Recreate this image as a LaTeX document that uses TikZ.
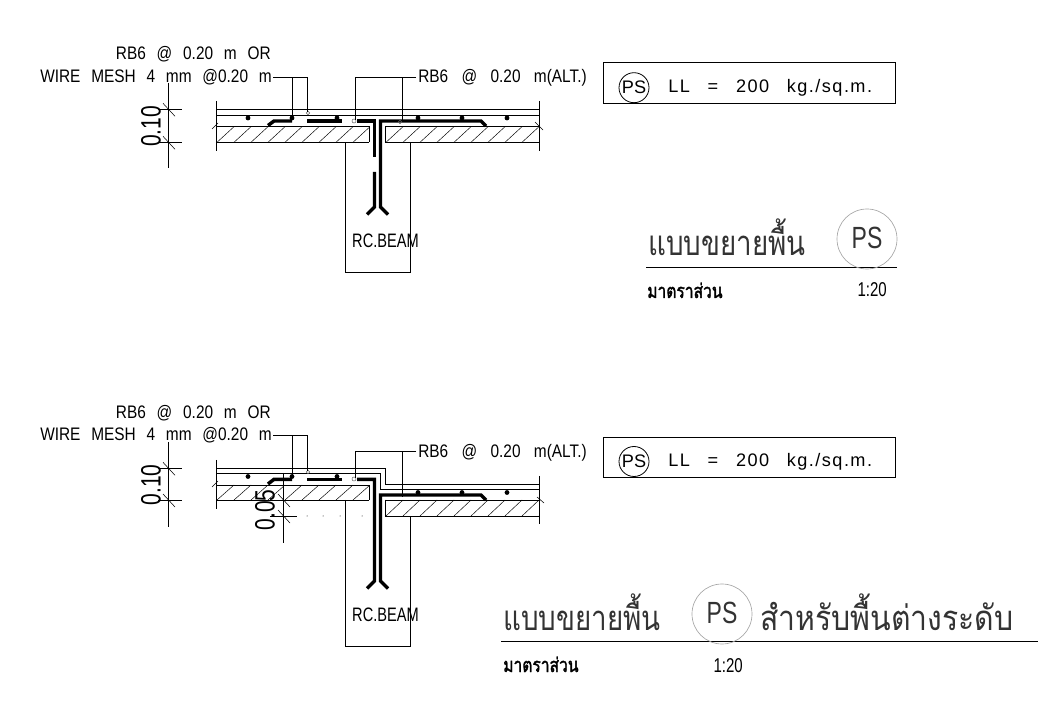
\documentclass[tikz,border=0pt]{standalone}
\usepackage{fontspec}
\setmainfont{Liberation Sans}
\newfontfamily\narrowfont[FakeStretch=0.75]{Liberation Sans}
\newfontfamily\spacedfont[FakeStretch=0.85]{Liberation Sans}
\newfontfamily\loadfont[LetterSpace=8]{Liberation Sans}
\newfontfamily\thaifont[Script=Thai, FakeStretch=0.8]{Loma}
\newfontfamily\thaiwide[Script=Thai, FakeStretch=0.87]{Loma}
\newfontfamily\thaibold[Script=Thai, FakeStretch=0.78, FakeBold=1.6]{Loma}
\usetikzlibrary{calc}
\newcommand{\wordgap}[1]{\spaceskip=#1em\relax}
\tikzset{
    thin line/.style = {line width = 0.6pt},
    rebar/.style = {line width = 2.6pt, line join = miter},
    bartext/.style = {inner sep = 0pt, font = \spacedfont\fontsize{13.6}{14}\selectfont, execute at begin node = {\wordgap{0.595}}},
    alttext/.style = {inner sep = 0pt, anchor = west, font = \spacedfont\fontsize{13.6}{14}\selectfont, execute at begin node = {\wordgap{0.737}}},
    loadtext/.style = {inner sep = 0pt, anchor = west, font = \loadfont\fontsize{13.6}{14}\selectfont, execute at begin node = {\wordgap{0.98}}},
    dimtext/.style = {rotate = 90, inner sep = 0pt, font = \narrowfont\fontsize{21}{21}\selectfont},
    beamtext/.style = {inner sep = 0pt, font = \narrowfont\fontsize{14.6}{15}\selectfont},
    bigthai/.style = {inner sep = 0pt, anchor = base west, text = black!80, font = \thaifont\fontsize{26}{26}\selectfont},
    smallthai/.style = {inner sep = 0pt, anchor = base west, font = \thaibold\fontsize{15}{15}\selectfont},
    ratiotext/.style = {inner sep = 0pt, anchor = base east, font = \narrowfont\fontsize{15}{15}\selectfont},
    seal/.style = {draw = black!35, line width = 0.5pt},
    sealtext/.style = {inner sep = 0pt, text = black!80, font = \narrowfont\fontsize{23}{23}\selectfont},
    pstext/.style = {inner sep = 0pt, font = \fontsize{13.6}{14}\selectfont},
    stirrup/.style = {line width = 0.4pt, black!60}
}
% Tratteggio del solaio
\newcommand{\deckhatch}[4]{
    \begin{scope}
        \clip (#1,#2) rectangle (#3,#4);
        \foreach \hx in {-1,...,25}
            \draw[line width = 0.35pt] ({#1+\hx*17+1},#4) -- ++(17,{#2-#4});
    \end{scope}
}
% Quota con tacche
\newcommand{\dimtick}[2]{
    \draw[line width = 0.4pt] ({#1-5},{#2-6}) -- ({#1+7},{#2+7});
}
\begin{document}
\begin{tikzpicture}[x = 0.75pt, y = -0.75pt]
    \useasboundingbox (0,0) rectangle (1064,705);
    \pgfmathsetmacro{\xleft}{216}
    \pgfmathsetmacro{\xright}{539}

    % Dettaglio superiore
    \draw[thin line] (\xleft,101) -- (\xleft,151);
    \draw[thin line] (\xright,101) -- (\xright,151);
    \draw[thin line] (\xleft,109.3) -- (\xright,109.3);
    \draw[thin line] (\xleft,115.3) -- (\xright,115.3);
    \deckhatch{216}{126.7}{369}{142.3}
    \deckhatch{385}{126.7}{539}{142.3}
    \draw[thin line] (\xleft,126.7) -- (369,126.7) -- (369,142.3);
    \draw[thin line] (\xright,126.7) -- (385,126.7) -- (385,142.3);
    \draw[thin line] (\xleft,142.3) -- (369,142.3);
    \draw[thin line] (385,142.3) -- (\xright,142.3);
    \draw[thin line] (345.7,142.3) -- (345.7,272) -- (410.3,272) -- (410.3,142.3);
    \draw[line width = 0.4pt] (212,129) -- (218,123);
    \draw[line width = 0.4pt] (535,122) -- (543,130);
    % Quota
    \draw[thin line] (168,83) -- (168,168);
    \draw[thin line] (158,109.3) -- (182,109.3);
    \draw[thin line] (158,142.3) -- (182,142.3);
    \dimtick{168}{109.3}
    \dimtick{168}{142.3}
    \node[dimtext] (dimA) at (151,126.5) {0.10};
    % Ferri
    \foreach \bx in {248,292,337,418,462,507}
        \fill (\bx,118) circle (2.4);
    \draw[rebar] (268,125.5) -- (274,121) -- (292,121);
    \draw[rebar] (307,121) -- (342,121);
    \draw[rebar] (357,121) -- (374.5,121) -- (374.5,157);
    \draw[rebar] (374.5,172) -- (374.5,207) -- (367,214.5);
    \draw[rebar] (486,126) -- (481,121) -- (380.5,121) -- (380.5,207) -- (388,214.5);
    \draw[stirrup] (354,121) circle (2);
    \draw[stirrup] (308,113) circle (1.8);
    \draw[stirrup] (400,122) circle (1.8);
    % Richiami
    \node[bartext, anchor = east] (meshA) at (271,54) {RB6 @ 0.20 m OR};
    \node[bartext, anchor = east] (wireA) at (272,77) {WIRE MESH 4 mm @0.20 m};
    \node[alttext] (altA) at (418,78) {RB6 @ 0.20 m(ALT.)};
    \draw[thin line] (273,77.3) -- (307,77.3) -- (307,112);
    \draw[thin line] (292,77.3) -- (292,118);
    \draw[thin line] (416,77.3) -- (355.7,77.3) -- (355.7,120);
    \draw[thin line] (402,77.3) -- (402,122);
    \node[beamtext] (beamA) at (385.5,241) {RC.BEAM};

    % Carico
    \draw[thin line] (603,62.5) rectangle (895,103.3);
    \draw[thin line] (634,87.7) circle (15);
    \node[pstext] (psA) at (634,87.7) {PS};
    \node[loadtext] (loadA) at (668,88) {LL = 200 kg./sq.m.};

    % Titolo superiore
    \node[bigthai] (titleA) at (648,256) {แบบขยายพื้น};
    \draw[line width = 0.7pt] (646,267) -- (897,267);
    \draw[seal] (867,239) circle (30);
    \node[sealtext] (sealA) at (867,238) {PS};
    \node[smallthai] (scaleA) at (647,298) {มาตราส่วน};
    \node[ratiotext] (ratioA) at (887,297) {1:20};

    % Dettaglio inferiore
    \draw[thin line] (\xleft,460) -- (\xleft,509);
    \draw[thin line] (\xright,476) -- (\xright,524);
    \draw[thin line] (\xleft,468.3) -- (385,468.3) -- (385,484.3) -- (\xright,484.3);
    \draw[thin line] (\xleft,473.3) -- (380.5,473.3) -- (380.5,489.3) -- (\xright,489.3);
    \deckhatch{216}{485}{369}{500}
    \deckhatch{385}{500}{539}{516}
    \draw[thin line] (\xleft,485) -- (369,485) -- (369,500);
    \draw[thin line] (\xleft,500) -- (369,500);
    \draw[thin line] (\xright,500) -- (385,500) -- (385,516);
    \draw[thin line] (385,516) -- (\xright,516);
    \draw[thin line] (345.7,500) -- (345.7,646) -- (410.7,646) -- (410.7,516);
    \draw[line width = 0.4pt] (212,487) -- (218,481);
    \draw[line width = 0.4pt] (537,497) -- (544,503);
    % Quote
    \draw[thin line] (168,442) -- (168,527);
    \draw[thin line] (158,468.3) -- (182,468.3);
    \draw[thin line] (158,500) -- (182,500);
    \dimtick{168}{468.3}
    \dimtick{168}{500}
    \node[dimtext] (dimB) at (151,485) {0.10};
    \draw[thin line] (283,473) -- (283,543);
    \draw[thin line] (270,516) -- (297,516);
    \dimtick{283}{500}
    \dimtick{283}{516}
    \node[dimtext] (dimC) at (265,510) {0.05};
    \foreach \dx in {307,323,340,362}
        \fill (\dx,516) circle (0.5);
    % Ferri
    \foreach \bx in {248,292,337}
        \fill (\bx,476.5) circle (2.4);
    \foreach \bx in {418,462,507}
        \fill (\bx,492.5) circle (2.4);
    \draw[rebar] (268,484) -- (274,479.3) -- (292,479.3);
    \draw[rebar] (307,479.5) -- (342,479.5);
    \draw[rebar] (357,479.3) -- (374.5,479.3) -- (374.5,581) -- (367,588.5);
    \draw[rebar] (486,500) -- (481,495) -- (380.5,495) -- (380.5,581) -- (388,588.5);
    \draw[stirrup] (354,479) circle (2);
    \draw[stirrup] (308,472) circle (1.8);
    % Richiami
    \node[bartext, anchor = east] (meshB) at (271,413) {RB6 @ 0.20 m OR};
    \node[bartext, anchor = east] (wireB) at (272,435.5) {WIRE MESH 4 mm @0.20 m};
    \node[alttext] (altB) at (418,452.5) {RB6 @ 0.20 m(ALT.)};
    \draw[thin line] (273,435.7) -- (307,435.7) -- (307,471);
    \draw[thin line] (292,435.7) -- (292,476);
    \draw[thin line] (416,451.7) -- (355.7,451.7) -- (355.7,478);
    \draw[thin line] (402,451.7) -- (402,497);
    \node[beamtext] (beamB) at (385.5,615) {RC.BEAM};

    % Carico
    \draw[thin line] (603,437) rectangle (895,477.5);
    \draw[thin line] (634,461.5) circle (15);
    \node[pstext] (psB) at (634,461.5) {PS};
    \node[loadtext] (loadB) at (668,462) {LL = 200 kg./sq.m.};

    % Titolo inferiore
    \node[bigthai] (titleB) at (503,630) {แบบขยายพื้น};
    \node[bigthai, font = \thaiwide\fontsize{26}{26}\selectfont] (titleC) at (760,630) {สำหรับพื้นต่างระดับ};
    \draw[line width = 0.7pt] (501,641) -- (1038,641);
    \draw[seal] (722,614) circle (30);
    \node[sealtext] (sealB) at (722,613) {PS};
    \node[smallthai] (scaleB) at (503,672) {มาตราส่วน};
    \node[ratiotext] (ratioB) at (743,672) {1:20};
\end{tikzpicture}
\end{document}
